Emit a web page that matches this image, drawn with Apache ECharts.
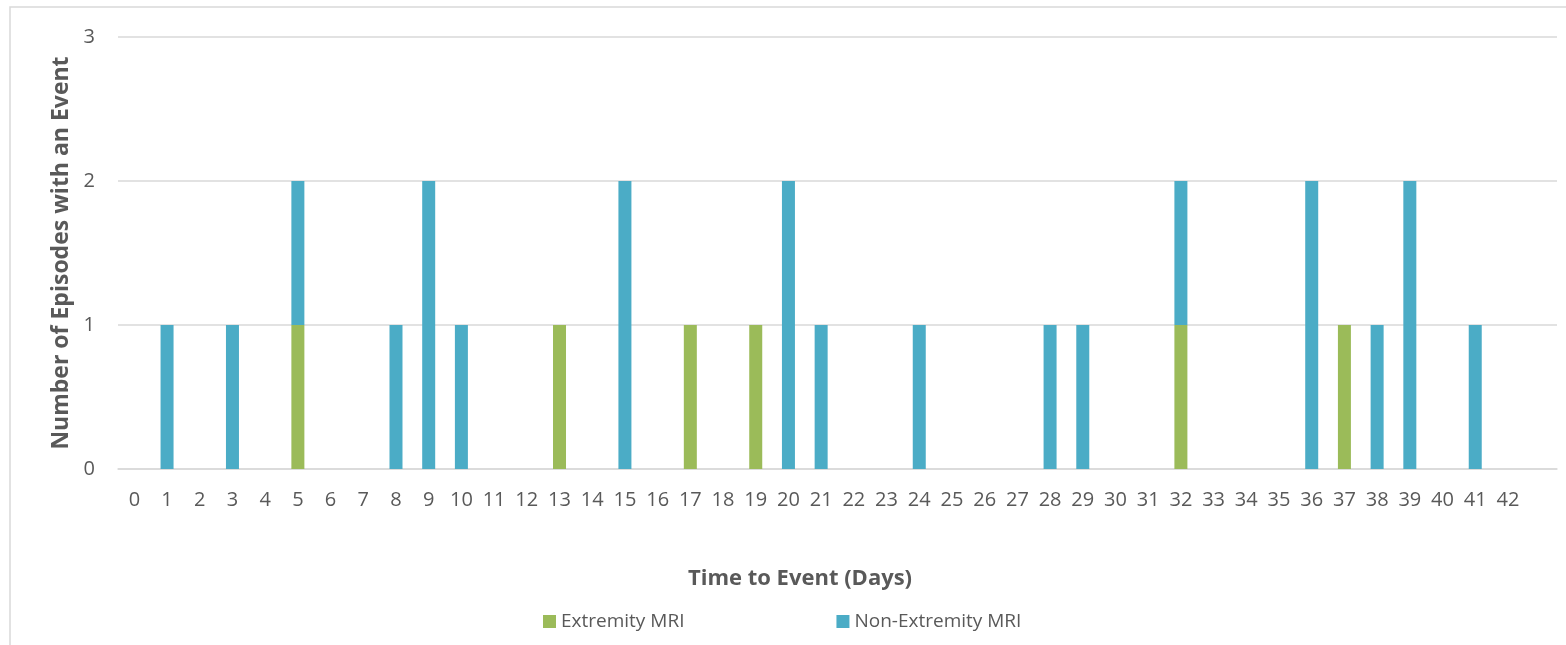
<!DOCTYPE html>
<html>
<head>
<meta charset="utf-8">
<script src="https://cdn.jsdelivr.net/npm/echarts@6/dist/echarts.min.js"></script>
<style>
html,body{margin:0;padding:0;background:#fff;}
#chart{width:1566px;height:645px;}
</style>
</head>
<body>
<div id="chart"></div>
<script>
var categories = ['0','1','2','3','4','5','6','7','8','9','10','11','12','13','14','15','16','17','18','19','20','21','22','23','24','25','26','27','28','29','30','31','32','33','34','35','36','37','38','39','40','41','42',''];
var extremityMRI =    [0,0,0,0,0,1,0,0,0,0,0,0,0,1,0,0,0,1,0,1,0,0,0,0,0,0,0,0,0,0,0,0,1,0,0,0,0,1,0,0,0,0,0,0];
var nonExtremityMRI = [0,1,0,1,0,1,0,0,1,2,1,0,0,0,0,2,0,0,0,0,2,1,0,0,1,0,0,0,1,1,0,0,1,0,0,0,2,0,1,2,0,1,0,0];
var yTicks = [0,1,2,3];

var textColor = '#595959';
var fontFam = '"Open Sans", sans-serif';
var chart = echarts.init(document.getElementById('chart'), null, {renderer:'canvas'});
chart.setOption({
  animation:false,
  backgroundColor:'#fff',
  textStyle:{fontFamily:fontFam,color:textColor},
  graphic:[{
    type:'rect', shape:{x:10,y:7,width:1600,height:700},
    style:{fill:'none',stroke:'#d9d9d9',lineWidth:1.5}, silent:true, z:-1
  }],
  grid:{left:118,right:9,top:37,bottom:176},
  legend:{
    left:538, top:607,
    itemWidth:13, itemHeight:13, itemGap:152,
    icon:'rect',
    textStyle:{fontSize:19,color:textColor,fontFamily:fontFam},
    data:['Extremity MRI','Non-Extremity MRI']
  },
  xAxis:{
    type:'category', data:categories,
    name:'Time to Event (Days)', nameLocation:'middle', nameGap:99,
    nameTextStyle:{fontSize:22,fontWeight:'bold',color:textColor,fontFamily:fontFam, padding:[0,75,0,0]},
    axisLine:{lineStyle:{color:'#d9d9d9',width:1.5}},
    axisTick:{show:false},
    axisLabel:{interval:0,fontSize:20,color:textColor,margin:21,fontFamily:fontFam},
    splitLine:{show:false}
  },
  yAxis:{
    type:'value', min:yTicks[0], max:yTicks[yTicks.length-1], interval:1,
    name:'Number of Episodes with an Event', nameLocation:'middle', nameGap:44, nameRotate:90,
    nameTextStyle:{fontSize:23,fontWeight:'bold',color:textColor,fontFamily:fontFam},
    axisLine:{show:false}, axisTick:{show:false},
    axisLabel:{fontSize:20,color:textColor,margin:23,fontFamily:fontFam},
    splitLine:{lineStyle:{color:'#d9d9d9',width:1.5}}
  },
  series:[
    {name:'Extremity MRI',type:'bar',stack:'total',data:extremityMRI,barWidth:13,itemStyle:{color:'#9BBB59'}},
    {name:'Non-Extremity MRI',type:'bar',stack:'total',data:nonExtremityMRI,barWidth:13,itemStyle:{color:'#4BACC6'}}
  ]
});
</script>
</body>
</html>
